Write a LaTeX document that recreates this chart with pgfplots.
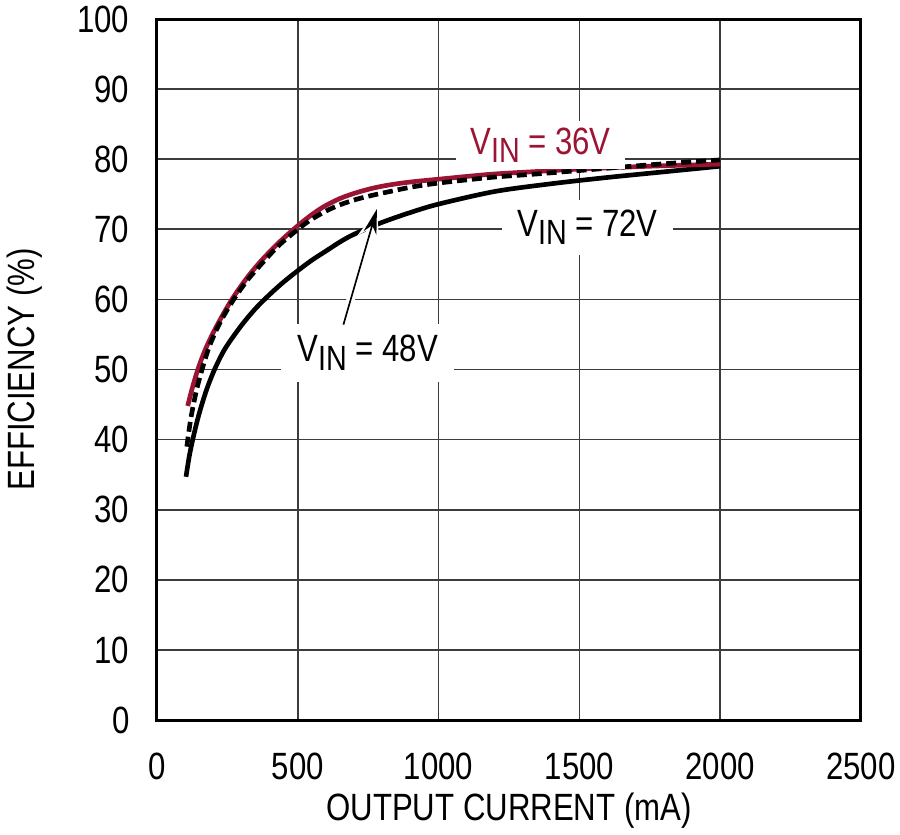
\documentclass[border=0pt]{standalone}
\usepackage{fontspec}
\setmainfont{Liberation Sans}[FakeStretch=0.82]
\usepackage{pgfplots}
\pgfplotsset{compat=1.18}
\usetikzlibrary{arrows.meta}
\definecolor{ltred}{RGB}{155,20,52}
\definecolor{gridc}{RGB}{60,60,60}
\newcommand{\vin}[1]{V\raisebox{-2.5pt}{\fontsize{10.5}{12}\selectfont IN} = #1}
\begin{document}
\begin{tikzpicture}
\fontsize{11.4}{13.7}\selectfont
\useasboundingbox (-47.1pt,-34.2pt) rectangle (222.9pt,216pt);
\begin{axis}[
  scale only axis,
  width=211.2pt, height=210.3pt,
  xmin=0, xmax=2500, ymin=0, ymax=100,
  xtick={0,500,...,2500}, ytick={0,10,...,100},
  major tick length=0pt,
  grid=major,
  major grid style={gridc, line width=0.5pt},
  axis line style={black, line width=0.9pt},
  /pgf/number format/assume math mode=true,
  /pgf/number format/1000 sep={},
  tick label style={font=\fontsize{11.4}{13.7}\selectfont},
  xticklabel style={yshift=-5.8pt},
  yticklabel style={xshift=-4.3pt},
  clip=false,
]
% 72 V solid black
\addplot[black, line width=1.4pt, smooth, tension=0.5] coordinates {
 (103,34.7) (115,37.7) (130,40.55) (150,43.75) (175,47.0) (200,49.6) (225,51.75) (250,53.5) (300,56.3) (350,58.7) (400,60.7) (450,62.5) (500,64.1) (550,65.6) (600,66.9) (650,68.2) (700,69.3) (800,71.0) (900,72.4) (1000,73.6) (1200,75.4) (1400,76.5) (1600,77.4) (1800,78.2) (2000,79.0)};
% 36 V red
\addplot[ltred, line width=1.4pt, smooth, tension=0.5] coordinates {
 (109,44.8) (125,47.3) (145,50) (165,52.2) (188,54.3) (220,56.8) (266,60) (320,63.1) (372,65.6) (430,68.0) (485,70) (540,71.8) (591,73.2) (650,74.4) (710,75.25) (770,75.9) (828,76.35) (900,76.75) (1000,77.15) (1184,77.85) (1350,78.25) (1504,78.6) (1750,79.0) (2000,79.3)};
% 48 V dashed
\addplot[black, line width=1.4pt, smooth, tension=0.5, dash pattern=on 3pt off 1.5pt] coordinates {
 (106,39.0) (120,43.0) (140,47.0) (160,50.0) (185,53.2) (220,56.4) (266,59.6) (320,62.7) (372,65.1) (430,67.6) (485,69.5) (540,71.2) (600,72.6) (650,73.5) (710,74.3) (770,74.9) (828,75.4) (900,76.0) (1000,76.6) (1184,77.4) (1350,77.9) (1504,78.4) (1750,79.2) (2000,79.9)};
% labels
\node[anchor=base, fill=white, inner xsep=4.4pt, inner ysep=2pt, text=ltred] at (axis cs:1362,80.7) {\vin{36V}};
\node[anchor=base, fill=white, inner xsep=4.5pt, inner ysep=3pt] at (axis cs:1529,69) {\vin{72V}};
\node[anchor=base, fill=white, inner xsep=4.8pt, inner ysep=3.5pt] at (axis cs:748,51.1) {\vin{48V}};
% arrow with white halo
\draw[white, line width=2.5pt, -{Stealth[length=9pt,width=6.5pt]}] (axis cs:662,56.4) -- (axis cs:781,72.9);
\draw[black, line width=0.5pt, -{Stealth[length=7.5pt,width=4pt]}] (axis cs:662,56.4) -- (axis cs:781,72.9);
\end{axis}
\node[anchor=base] at (105.6pt,-30pt) {OUTPUT CURRENT (mA)};
\node[rotate=90, anchor=base] at (-36.6pt,105.15pt) {EFFICIENCY (\%)};
\end{tikzpicture}
\end{document}
